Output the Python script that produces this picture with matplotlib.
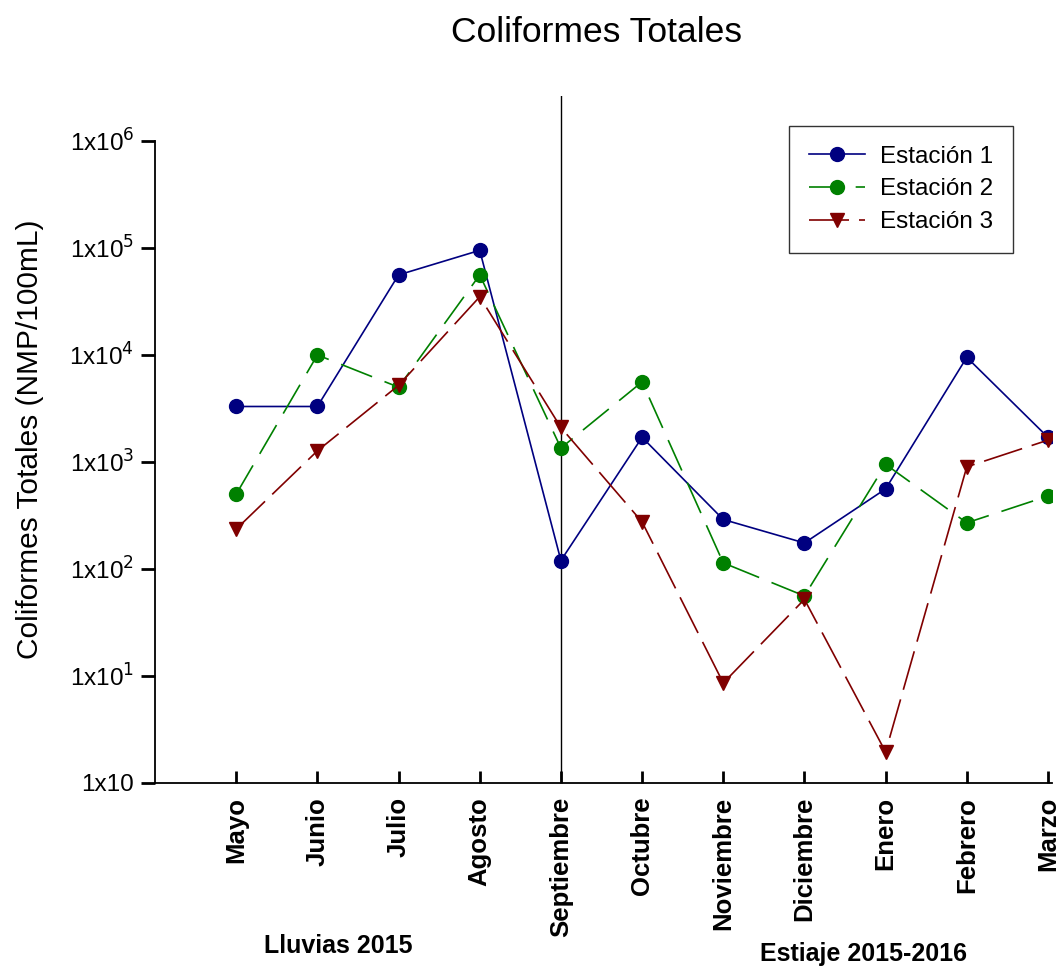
import matplotlib
matplotlib.use("Agg")
import matplotlib.pyplot as plt
import numpy as np

plt.rcParams['font.family'] = ['Liberation Sans', 'DejaVu Sans']

meses = ["Mayo", "Junio", "Julio", "Agosto", "Septiembre", "Octubre",
         "Noviembre", "Diciembre", "Enero", "Febrero", "Marzo"]
estacion1 = [3300, 3300, 56000, 95000, 120, 1700, 290, 175, 560, 9500, 1700]
estacion2 = [500, 10000, 5000, 56000, 1350, 5600, 114, 56, 950, 270, 480]
estacion3 = [236, 1270, 5200, 35000, 2100, 275, 8.6, 52, 1.95, 900, 1600]
ytick_vals = [1, 10, 100, 1000, 10000, 100000, 1000000]
ytick_labels = ["1x10", "1x10$^{1}$", "1x10$^{2}$", "1x10$^{3}$",
                "1x10$^{4}$", "1x10$^{5}$", "1x10$^{6}$"]

x = np.arange(1, len(meses) + 1)

fig = plt.figure(figsize=(10.59, 9.67), dpi=100)
ax = fig.add_axes([0.1464, 0.1903, 0.847, 0.7104])

ax.plot(x, estacion1, color="#000080", lw=1.2, marker="o", ms=10,
        label="Estación 1", zorder=3)
ax.plot(x, estacion2, color="#008000", lw=1.2, marker="o", ms=10,
        dashes=(20, 8), label="Estación 2", zorder=3)
ax.plot(x, estacion3, color="#800000", lw=1.2, marker="v", ms=10,
        dashes=(24, 6), label="Estación 3", zorder=3)

ax.axvline(5, color="black", lw=1.0, zorder=2)

ax.set_yscale("log")
ax.set_ylim(1, 10 ** 6.42)
ax.set_xlim(0, 11.05)
ax.set_yticks(ytick_vals)
ax.set_yticklabels(ytick_labels, fontsize=17.5)
ax.yaxis.set_minor_locator(matplotlib.ticker.NullLocator())
ax.set_xticks(x)
ax.set_xticklabels(meses, rotation=90, fontsize=18.5, fontweight="bold")

ax.spines["top"].set_visible(False)
ax.spines["right"].set_visible(False)
ax.spines["left"].set_bounds(1, 1e6)
for s in ("left", "bottom"):
    ax.spines[s].set_linewidth(1.3)
ax.tick_params(axis="y", direction="out", length=10, width=2, pad=5)
ax.tick_params(axis="x", direction="in", length=9, width=2, pad=10)

ax.set_ylabel("Coliformes Totales (NMP/100mL)", fontsize=21.5, labelpad=18)
fig.text(0.5637, 0.966, "Coliformes Totales", fontsize=25.5,
         ha="center", va="center")
fig.text(0.319, 0.022, "Lluvias 2015", fontsize=18, fontweight="bold",
         ha="center", va="center")
fig.text(0.815, 0.013, "Estiaje 2015-2016", fontsize=18, fontweight="bold",
         ha="center", va="center")

leg = ax.legend(loc="upper right", bbox_to_anchor=(0.9565, 0.9563),
                borderaxespad=0, fontsize=17.5, frameon=True, fancybox=False,
                handlelength=2.3, borderpad=0.8, labelspacing=0.45,
                handletextpad=0.65)
leg.get_frame().set_edgecolor("black")
leg.get_frame().set_linewidth(1.0)

fig.savefig("out.png", dpi=100)
